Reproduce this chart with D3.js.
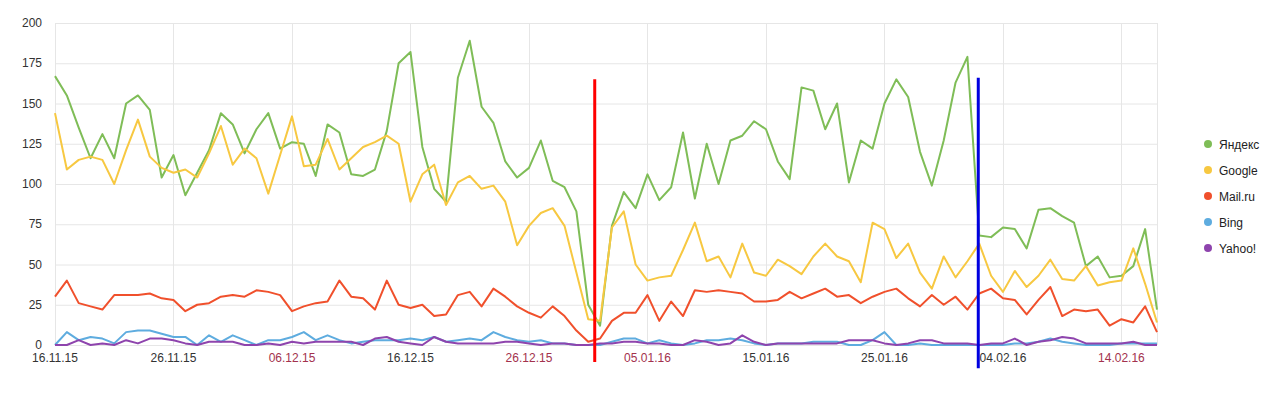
<!DOCTYPE html>
<html>
<head>
<meta charset="utf-8">
<script src="https://d3js.org/d3.v7.min.js"></script>
<style>
body { margin: 0; background: #fff; }
text { font-family: Arial, "Liberation Sans", sans-serif; }
</style>
</head>
<body>
<script>
// first day of the series, one value per day after it
var startDay = "16.11.15";

var yandex = [167,155,135,116,131,116,150,155,146,104,118,93,107,121,144,137,119,134,144,122,
  126,125,105,137,132,106,105,109,133,175,182,123,97,89,166,189,148,138,114,104,
  110,127,102,98,83,25,12,74,95,85,106,90,98,132,91,125,100,127,130,139,
  134,114,103,160,158,134,150,101,127,122,150,165,154,120,99,127,163,179,68,67,
  73,72,60,84,85,80,76,49,55,42,43,49,72,22];
var google = [144,109,115,117,115,100,121,140,117,110,107,109,104,119,136,112,122,116,94,118,
  142,111,112,128,109,116,123,126,130,125,89,106,112,87,101,105,97,99,89,62,
  74,82,85,74,45,16,15,73,83,50,40,42,43,59,76,52,55,42,63,45,
  43,53,49,44,55,63,55,52,39,76,72,54,63,45,35,55,42,52,63,43,
  33,46,36,43,53,41,40,49,37,39,40,60,38,14];
var mailru = [30,40,26,24,22,31,31,31,32,29,28,21,25,26,30,31,30,34,33,31,
  21,24,26,27,40,30,29,22,40,25,23,25,18,19,31,33,24,35,30,24,
  20,17,24,18,9,2,4,15,20,20,31,15,27,18,34,33,34,33,32,27,
  27,28,33,29,32,35,30,31,26,30,33,35,29,24,31,25,30,22,32,35,
  29,28,19,28,36,18,22,21,22,12,16,14,24,8];
var bing = [0,8,3,5,4,1,8,9,9,7,5,5,0,6,2,6,3,0,3,3,
  5,8,3,6,3,1,2,3,3,3,4,3,5,2,3,4,3,8,5,3,
  2,3,1,1,0,0,0,2,4,4,1,3,1,0,1,3,3,4,3,1,
  0,1,1,1,2,2,2,0,0,3,8,0,0,1,0,0,0,0,0,0,
  0,1,1,2,4,2,1,0,0,0,1,1,1,1];
var yahoo = [0,0,3,0,1,0,3,1,4,4,3,1,0,2,2,2,0,0,1,0,
  2,1,2,2,2,2,0,4,5,2,1,0,5,2,1,1,1,1,2,2,
  1,0,1,1,0,0,1,1,2,2,1,1,0,0,3,2,0,1,6,2,
  0,1,1,1,1,1,1,3,3,3,1,0,1,3,3,1,1,1,0,1,
  1,4,0,2,3,5,4,1,1,1,1,2,0,0];

var seriesNames = ["Яндекс", "Google", "Mail.ru", "Bing", "Yahoo!"];
var seriesColors = ["#7fbd57", "#f7c841", "#f0502c", "#5eacdf", "#8e44ad"];

var tickLabels = ["16.11.15","26.11.15","06.12.15","16.12.15","26.12.15",
  "05.01.16","15.01.16","25.01.16","04.02.16","14.02.16"];
var redTicks = ["06.12.15","26.12.15","05.01.16","14.02.16"];
var yTicks = [0,25,50,75,100,125,150,175,200];

// hand drawn marker lines: date + time, top and bottom value
var markers = [
  {at: "31.12.15 13:10", top: 165, bottom: -10.5, color: "#ff0000"},
  {at: "01.02.16 22:00", top: 166, bottom: -14.5, color: "#0000e0"}
];

var width = 1280, height = 398;
var parseDay = d3.timeParse("%d.%m.%y");
var parseTime = d3.timeParse("%d.%m.%y %H:%M");
var t0 = parseDay(startDay);
var nDays = yandex.length;

var x = d3.scaleTime()
  .domain([t0, d3.timeDay.offset(t0, nDays - 1)])
  .range([55, 1157]);
var y = d3.scaleLinear().domain([0, 200]).range([345, 23]);

var svg = d3.select("body").append("svg")
  .attr("width", width)
  .attr("height", height);

// grid
svg.append("g")
  .selectAll("line")
  .data(yTicks)
  .enter().append("line")
  .attr("x1", x.range()[0]).attr("x2", x.range()[1])
  .attr("y1", function(d) { return y(d) + 0.5; })
  .attr("y2", function(d) { return y(d) + 0.5; })
  .style("stroke", "#e6e6e6");

svg.append("g")
  .selectAll("line")
  .data(tickLabels.map(parseDay).concat([x.domain()[1]]))
  .enter().append("line")
  .attr("x1", function(d) { return Math.round(x(d)) + 0.5; })
  .attr("x2", function(d) { return Math.round(x(d)) + 0.5; })
  .attr("y1", y(200)).attr("y2", y(0))
  .style("stroke", "#e6e6e6");

// y labels
svg.append("g")
  .selectAll("text")
  .data(yTicks)
  .enter().append("text")
  .attr("x", 42)
  .attr("y", function(d) { return y(d) + 4; })
  .attr("text-anchor", "end")
  .style("font-size", "12px")
  .style("fill", "#333")
  .text(function(d) { return d; });

// x labels
svg.append("g")
  .selectAll("text")
  .data(tickLabels)
  .enter().append("text")
  .attr("x", function(d) { return x(parseDay(d)); })
  .attr("y", 362)
  .attr("text-anchor", "middle")
  .style("font-size", "12px")
  .style("fill", function(d) { return redTicks.indexOf(d) >= 0 ? "#a3324d" : "#333"; })
  .text(function(d) { return d; });

var series = [yandex, google, mailru, bing, yahoo];

var line = d3.line()
  .x(function(d, i) { return x(d3.timeDay.offset(t0, i)); })
  .y(function(d) { return y(d); });

svg.append("g")
  .selectAll("path")
  .data(series)
  .enter().append("path")
  .attr("d", line)
  .style("fill", "none")
  .style("stroke", function(d, i) { return seriesColors[i]; })
  .style("stroke-width", 2)
  .style("stroke-linejoin", "round");

// marker lines on top
svg.append("g")
  .selectAll("line")
  .data(markers)
  .enter().append("line")
  .attr("x1", function(d) { return x(parseTime(d.at)); })
  .attr("x2", function(d) { return x(parseTime(d.at)); })
  .attr("y1", function(d) { return y(d.top); })
  .attr("y2", function(d) { return y(d.bottom); })
  .style("stroke", function(d) { return d.color; })
  .style("stroke-width", 3);

// legend
var legend = svg.append("g")
  .selectAll("g")
  .data(seriesNames)
  .enter().append("g")
  .attr("transform", function(d, i) { return "translate(1208," + (144 + i * 26) + ")"; });

legend.append("circle")
  .attr("r", 4)
  .style("fill", function(d, i) { return seriesColors[i]; });

legend.append("text")
  .attr("x", 11)
  .attr("y", 4.5)
  .style("font-size", "12px")
  .style("fill", "#222")
  .text(function(d) { return d; });
</script>
</body>
</html>
